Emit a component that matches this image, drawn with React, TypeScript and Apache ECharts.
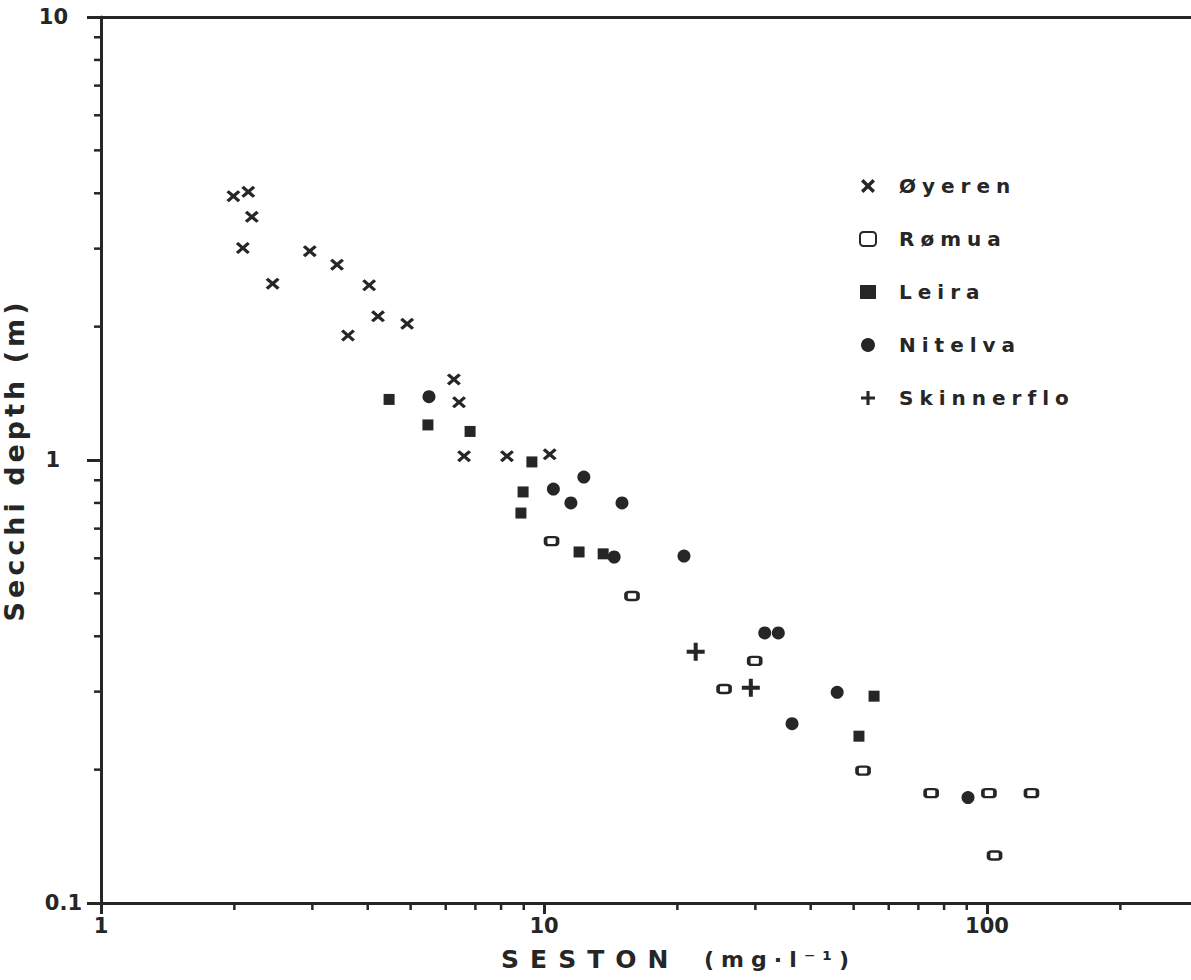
import React, { useEffect, useRef } from "react";
import * as echarts from "echarts";

// Seston concentration (mg/l) and Secchi depth (m) per river
const oyerenSeston = [1.99, 2.15, 2.19, 2.09, 2.44, 2.96, 3.41, 4.03, 4.22, 4.91, 3.61, 6.26, 6.43, 6.6, 8.25, 10.3];
const oyerenSecchi = [3.94, 4.03, 3.54, 3.01, 2.5, 2.96, 2.76, 2.48, 2.11, 2.03, 1.91, 1.52, 1.35, 1.02, 1.02, 1.03];

const romuaSeston = [10.4, 15.8, 29.9, 25.5, 52.5, 74.8, 101, 126, 104];
const romuaSecchi = [0.656, 0.493, 0.352, 0.304, 0.199, 0.177, 0.177, 0.177, 0.128];

const leiraSeston = [4.47, 5.47, 6.81, 9.39, 8.97, 8.87, 12.0, 13.6, 55.6, 51.4];
const leiraSecchi = [1.37, 1.2, 1.16, 0.99, 0.847, 0.759, 0.62, 0.614, 0.293, 0.238];

const nitelvaSeston = [5.5, 10.5, 12.3, 11.5, 15.0, 14.4, 20.7, 31.5, 33.8, 45.9, 36.3, 90.6];
const nitelvaSecchi = [1.39, 0.86, 0.915, 0.8, 0.8, 0.604, 0.607, 0.407, 0.407, 0.299, 0.254, 0.173];

const skinnerfloSeston = [22.0, 29.3];
const skinnerfloSecchi = [0.369, 0.306];

const seriesNames = ["Øyeren", "Rømua", "Leira", "Nitelva", "Skinnerflo"];

// Labelled decades on the seston axis, and minor (unlabelled) tick positions
const xTickLabels = [1, 10, 100];
const xMinorTicks = [2, 3, 4, 5, 6, 7, 8, 9, 20, 30, 40, 50, 60, 70, 80, 90, 200];
const yMinorTicks = [0.2, 0.3, 0.4, 0.5, 0.6, 0.7, 0.8, 0.9, 2, 3, 4, 5, 6, 7, 8, 9];

const X_MIN = 1;
const X_MAX = 1000;
const Y_MIN = 0.1;
const Y_MAX = 10;

const INK = "#262626";
const FONT = "DejaVu Sans";

const CROSS = "path://M0,2.1 L2.1,0 L6,3.9 L9.9,0 L12,2.1 L8.1,6 L12,9.9 L9.9,12 L6,8.1 L2.1,12 L0,9.9 L3.9,6 Z";
const PLUS = "path://M7,0 H11 V7 H18 V11 H11 V18 H7 V11 H0 V7 H7 Z";

const pairs = (xs: number[], ys: number[]) => xs.map((x, i) => [x, ys[i]]);

// Wide letter spacing for the typewriter-like lettering, keyed on font size
const css = `
.seston-chart text[style*="20px"] { letter-spacing: 6px; }
.seston-chart text[style*="25px"] { letter-spacing: 11px; }
.seston-chart text[style*="22px"] { letter-spacing: 7px; }
.seston-chart text[style*="27px"] { letter-spacing: 4px; }
`;

function buildOption(): any {
  const tickStyle = { stroke: INK, lineWidth: 2.5 };
  const tickFont = { fontFamily: FONT, fontSize: 21, fontWeight: "bold", color: INK };
  return {
    animation: false,
    backgroundColor: "#ffffff",
    // the x axis runs on past the right edge of the page (up to 1000)
    grid: {
      left: 101,
      top: 17,
      height: 886,
      width: 1329,
      containLabel: false,
      outerBoundsMode: "none",
    },
    legend: {
      data: seriesNames,
      orient: "vertical",
      left: 859,
      top: 176,
      padding: 0,
      itemWidth: 16,
      itemHeight: 14,
      itemGap: 33,
      selectedMode: false,
      textStyle: {
        fontFamily: FONT,
        fontSize: 20,
        fontWeight: "bold",
        color: INK,
        padding: [0, 0, 0, 18],
      },
    },
    xAxis: [
      {
        type: "log",
        logBase: 10,
        min: X_MIN,
        max: X_MAX,
        position: "bottom",
        axisLine: { show: true, lineStyle: { color: INK, width: 3 } },
        axisTick: { show: true, length: 11, lineStyle: { color: INK, width: 3 } },
        axisLabel: {
          margin: 12,
          ...tickFont,
          formatter: (v: number) => (xTickLabels.indexOf(v) >= 0 ? String(v) : ""),
        },
        splitLine: { show: false },
        name: "{a|SESTON}{u|(mg·l⁻¹)}",
        nameLocation: "middle",
        nameGap: 41,
        nameTextStyle: {
          padding: [0, 230, 0, 0],
          rich: {
            a: { align: "left", fontFamily: FONT, fontSize: 25, fontWeight: "bold", color: INK, width: 203, lineHeight: 30 },
            u: { align: "left", fontFamily: FONT, fontSize: 22, fontWeight: "bold", color: INK, lineHeight: 30 },
          },
        },
      },
      {
        type: "log",
        logBase: 10,
        min: X_MIN,
        max: X_MAX,
        position: "top",
        axisLine: { show: true, lineStyle: { color: INK, width: 3 } },
        axisTick: { show: false },
        axisLabel: { show: false },
        splitLine: { show: false },
      },
    ],
    yAxis: {
      type: "log",
      logBase: 10,
      min: Y_MIN,
      max: Y_MAX,
      axisLine: { show: true, lineStyle: { color: INK, width: 3 } },
      axisTick: { show: true, length: 14, lineStyle: { color: INK, width: 3 } },
      axisLabel: {
        margin: 19,
        formatter: (v: number) => (v >= 10 ? "{t|10}" : v >= 1 ? "{o|1}" : "{h|0.1}"),
        rich: {
          t: { ...tickFont, padding: [0, 14, 0, 0] },
          o: { ...tickFont, padding: [0, 22, 0, 0] },
          h: { ...tickFont },
        },
      },
      splitLine: { show: false },
      name: "Secchi depth (m)",
      nameLocation: "middle",
      nameGap: 56,
      nameTextStyle: { fontFamily: FONT, fontSize: 27, fontWeight: "bold", color: INK },
    },
    series: [
      {
        name: "Øyeren",
        type: "scatter",
        data: pairs(oyerenSeston, oyerenSecchi),
        symbol: CROSS,
        symbolSize: [14, 12],
        itemStyle: { color: INK, opacity: 1 },
      },
      {
        name: "Rømua",
        type: "scatter",
        data: pairs(romuaSeston, romuaSecchi),
        symbol: "roundRect",
        symbolSize: [12, 8],
        itemStyle: { color: "#ffffff", borderColor: INK, borderWidth: 3, opacity: 1 },
      },
      {
        name: "Leira",
        type: "scatter",
        data: pairs(leiraSeston, leiraSecchi),
        symbol: "rect",
        symbolSize: 11,
        itemStyle: { color: INK, opacity: 1 },
      },
      {
        name: "Nitelva",
        type: "scatter",
        data: pairs(nitelvaSeston, nitelvaSecchi),
        symbol: "circle",
        symbolSize: 13,
        itemStyle: { color: INK, opacity: 1 },
      },
      {
        name: "Skinnerflo",
        type: "scatter",
        data: pairs(skinnerfloSeston, skinnerfloSecchi),
        symbol: PLUS,
        symbolSize: 18,
        itemStyle: { color: INK, opacity: 1 },
      },
      {
        name: "x minor ticks",
        type: "custom",
        clip: false,
        silent: true,
        data: xMinorTicks.map((v) => [v, Y_MIN]),
        renderItem: (_p: any, api: any) => {
          const pt = api.coord([api.value(0), api.value(1)]);
          return { type: "line", shape: { x1: pt[0], y1: pt[1], x2: pt[0], y2: pt[1] + 7 }, style: tickStyle };
        },
      },
      {
        name: "y minor ticks",
        type: "custom",
        clip: false,
        silent: true,
        data: yMinorTicks.map((v) => [X_MIN, v]),
        renderItem: (_p: any, api: any) => {
          const pt = api.coord([api.value(0), api.value(1)]);
          return { type: "line", shape: { x1: pt[0] - 7, y1: pt[1], x2: pt[0], y2: pt[1] }, style: tickStyle };
        },
      },
    ],
  };
}

export default function App() {
  const ref = useRef<HTMLDivElement>(null);
  useEffect(() => {
    if (!ref.current) return;
    const chart = echarts.init(ref.current, null, { renderer: "svg" });
    chart.setOption(buildOption());
    return () => chart.dispose();
  }, []);
  return (
    <>
      <style>{css}</style>
      <div
        ref={ref}
        className="seston-chart"
        style={{ position: "absolute", left: 0, top: 0, width: 1191, height: 980, background: "#fff" }}
      />
    </>
  );
}
